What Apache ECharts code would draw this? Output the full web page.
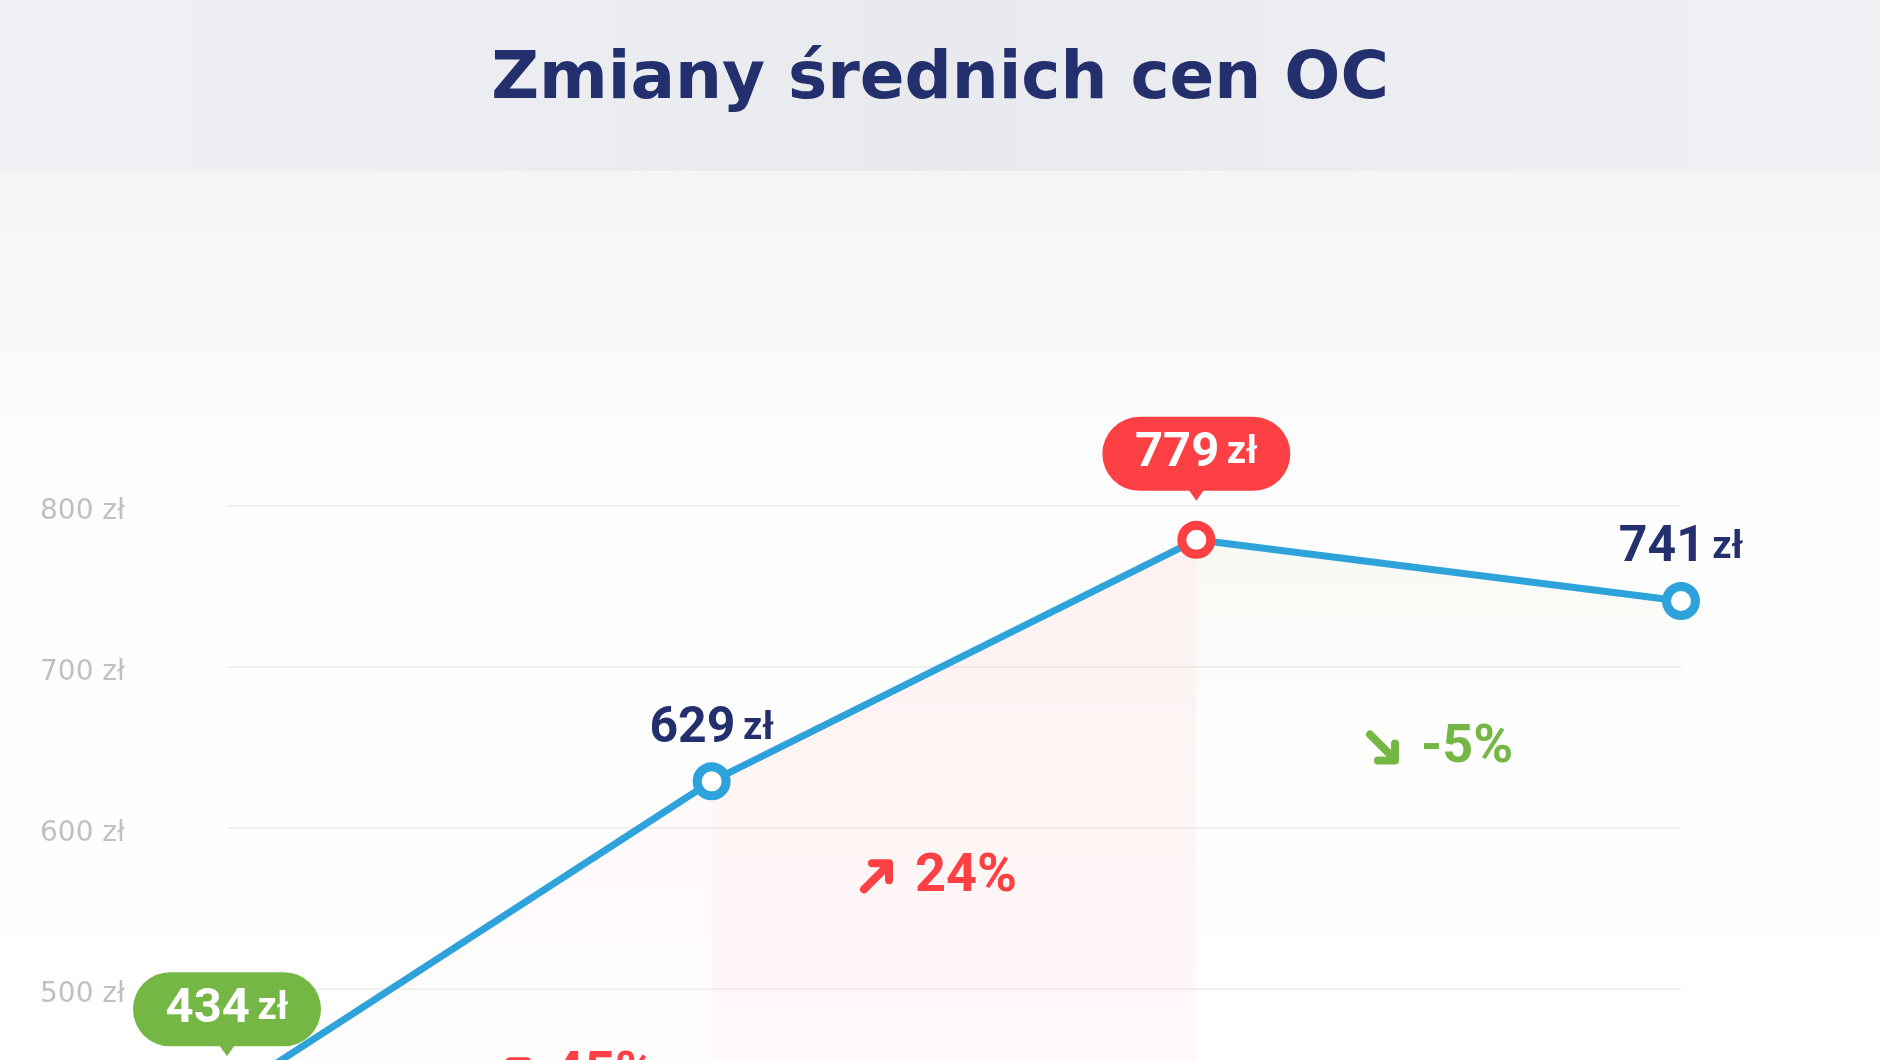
<!DOCTYPE html>
<html>
<head>
<meta charset="utf-8">
<script src="https://cdn.jsdelivr.net/npm/echarts@6/dist/echarts.min.js"></script>
<style>
    html, body { margin: 0; padding: 0; background: #fff; }
    #chart { width: 1880px; height: 1060px; }
</style>
</head>
<body>
<div id="chart"></div>
<script>
var categories = ['I', 'II', 'III', 'IV'];
var prices = [434, 629, 779, 741];
var yTicks = [400, 500, 600, 700, 800];
var unit = 'zł';

var NAVY = '#23306d', BLUE = '#2ea2da', RED = '#fd4044', GREEN = '#74b744';

// where the percent labels sit: [category position, price level]
var changeLabelAnchor = [[0.557, 447], [1.304, 570], [2.348, 650]];
var segmentAlpha = [0.035, 0.09, 0.07];

var chart = echarts.init(document.getElementById('chart'));

var maxIdx = prices.indexOf(Math.max.apply(null, prices));
var minIdx = prices.indexOf(Math.min.apply(null, prices));

function pointColor(i) {
    return i === maxIdx ? RED : (i === minIdx ? GREEN : BLUE);
}

// percent change between neighbouring points
var changes = [];
for (var i = 1; i < prices.length; i++) {
    changes.push(Math.round((prices[i] - prices[i - 1]) / prices[i - 1] * 100));
}

function rgba(hex, a) {
    var n = parseInt(hex.slice(1), 16);
    return 'rgba(' + (n >> 16) + ',' + ((n >> 8) & 255) + ',' + (n & 255) + ',' + a + ')';
}

var valueRich = {
    v: {fontFamily: 'Roboto', fontWeight: 'bold', fontSize: 50, color: NAVY},
    u: {fontFamily: 'Roboto', fontWeight: 'bold', fontSize: 38, color: NAVY}
};
var bubbleRich = {
    v: {fontFamily: 'Roboto', fontWeight: 'bold', fontSize: 49, color: '#fff'},
    u: {fontFamily: 'Roboto', fontWeight: 'bold', fontSize: 38, color: '#fff'}
};

// shaded area under each segment
var segmentSeries = changes.map(function (ch, k) {
    var c = ch > 0 ? RED : GREEN;
    var stops = ch > 0
        ? [{offset: 0, color: rgba(c, segmentAlpha[k])}, {offset: 1, color: rgba(c, segmentAlpha[k] * 0.5)}]
        : [{offset: 0, color: rgba(c, segmentAlpha[k])}, {offset: 0.35, color: rgba(c, 0)}];
    return {
        type: 'line',
        silent: true,
        z: 1,
        symbol: 'none',
        lineStyle: {width: 0},
        areaStyle: {color: {type: 'linear', x: 0, y: 0, x2: 0, y2: 1, colorStops: stops}},
        data: prices.map(function (v, i) { return (i === k || i === k + 1) ? v : '-'; })
    };
});

var bubblePath = 'path://M37,0 L151,0 A37,37 0 0 1 151,74 L101,74 L94,84 L87,74 L37,74 A37,37 0 0 1 37,0 Z';

var option = {
    animation: false,
    backgroundColor: {
        type: 'linear', x: 0, y: 0, x2: 0, y2: 1,
        colorStops: [
            {offset: 0, color: '#eef0f3'},
            {offset: 0.17, color: '#f4f5f7'},
            {offset: 0.45, color: '#fdfdfd'},
            {offset: 1, color: '#ffffff'}
        ]
    },
    title: {
        text: 'Zmiany średnich cen OC',
        left: 'center',
        top: 43,
        textStyle: {fontFamily: 'DejaVu Sans', fontWeight: 'bold', fontSize: 66, color: NAVY}
    },
    grid: {left: 227, right: 199, top: 506, height: 644, containLabel: false, outerBoundsMode: 'none'},
    xAxis: {
        type: 'category',
        data: categories,
        boundaryGap: false,
        show: false
    },
    yAxis: {
        type: 'value',
        min: yTicks[0],
        max: yTicks[yTicks.length - 1],
        interval: yTicks[1] - yTicks[0],
        axisLine: {show: false},
        axisTick: {show: false},
        splitLine: {lineStyle: {color: '#ececec', width: 1.5}},
        axisLabel: {
            formatter: '{value} ' + unit,
            align: 'left',
            verticalAlign: 'top',
            lineHeight: 12,
            margin: 187,
            color: '#c0c0c0',
            fontFamily: 'DejaVu Sans',
            fontSize: 28
        }
    },
    series: segmentSeries.concat([{
        type: 'line',
        z: 3,
        data: prices.map(function (v, i) {
            return {
                value: v,
                itemStyle: {color: '#fff', borderColor: pointColor(i)},
                label: {show: i !== maxIdx && i !== minIdx}
            };
        }),
        lineStyle: {color: BLUE, width: 7},
        symbol: 'circle',
        symbolSize: 29,
        itemStyle: {borderWidth: 9},
        label: {
            position: 'top',
            distance: 8,
            fontSize: 30,
            fontFamily: 'Roboto',
            formatter: function (p) { return '{v|' + p.value + '} {u|' + unit + '}'; },
            rich: valueRich
        },
        markPoint: {
            symbol: bubblePath,
            symbolSize: [188, 84],
            symbolOffset: [0, -81],
            label: {
                show: true,
                position: 'inside',
                offset: [0, -5],
                fontSize: 27,
                formatter: function (p) { return '{v|' + p.value + '} {u|' + unit + '}'; },
                rich: bubbleRich
            },
            data: [maxIdx, minIdx].map(function (i) {
                return {coord: [i, prices[i]], value: prices[i], itemStyle: {color: pointColor(i)}};
            })
        }
    }]),
    graphic: [{
        type: 'rect',
        z: -1,
        shape: {x: 0, y: 0, width: 1880, height: 171},
        style: {
            fill: {
                type: 'linear', x: 0, y: 0, x2: 1, y2: 0,
                colorStops: [
                    {offset: 0, color: '#f0f1f4'},
                    {offset: 0.5, color: '#e8eaee'},
                    {offset: 1, color: '#f0f1f4'}
                ]
            }
        }
    }]
};
chart.setOption(option);

// percent change labels, placed through the grid's own scales
function toPixel(pos, val) {
    var i0 = Math.floor(pos), f = pos - i0;
    var a = chart.convertToPixel({gridIndex: 0}, [i0, val]);
    var b = chart.convertToPixel({gridIndex: 0}, [Math.min(i0 + 1, prices.length - 1), val]);
    return [a[0] + (b[0] - a[0]) * f, a[1]];
}

var changeGraphics = changes.map(function (ch, k) {
    var p = toPixel(changeLabelAnchor[k][0], changeLabelAnchor[k][1]);
    var c = ch > 0 ? RED : GREEN;
    var up = ch > 0;
    return {
        type: 'group',
        x: p[0],
        y: p[1] - 17,
        z: 10,
        children: [{
            type: 'line', z: 10,
            shape: up ? {x1: 5, y1: 30, x2: 28, y2: 7} : {x1: 5, y1: 4, x2: 28, y2: 27},
            style: {stroke: c, lineWidth: 8, lineCap: 'round'}
        }, {
            type: 'polyline', z: 10,
            shape: {points: up ? [[13, 4], [30, 4], [30, 21]] : [[13, 30], [30, 30], [30, 13]]},
            style: {stroke: c, fill: null, lineWidth: 8, lineCap: 'round', lineJoin: 'round'}
        }, {
            type: 'text', z: 10,
            x: 56, y: 18,
            style: {
                text: ch + '%',
                fill: c,
                fontFamily: 'Roboto',
                fontWeight: 'bold',
                fontSize: 54,
                verticalAlign: 'middle',
                align: 'left'
            }
        }]
    };
});

chart.setOption({graphic: option.graphic.concat(changeGraphics)});
</script>
</body>
</html>
